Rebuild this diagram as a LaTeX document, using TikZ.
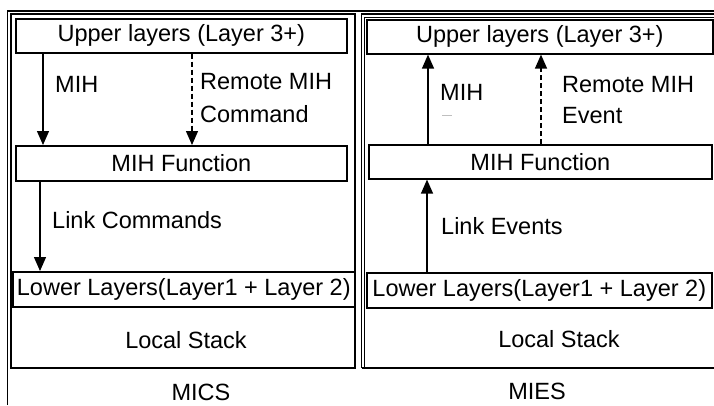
\documentclass[tikz,border=0pt]{standalone}
\usepackage{fontspec}
\setmainfont{Liberation Sans}
\usetikzlibrary{arrows.meta}
\tikzset{
  box/.style={draw, line width=1.6pt, inner sep=0pt, anchor=north west, align=center},
  frameline/.style={line width=1.4pt},
  arr/.style={line width=1.3pt, -{Triangle[width=12pt,length=14pt]}},
  darr/.style={arr, dash pattern=on 5pt off 3pt},
  lbl/.style={anchor=base west, inner sep=0pt},
  clbl/.style={anchor=base, inner sep=0pt}
}
\begin{document}
\begin{tikzpicture}[x=1pt,y=-1pt,font=\fontsize{23.5}{28}\selectfont]
\useasboundingbox (0,0) rectangle (714,405);
% frames
\draw[frameline] (7.5,405) -- (7.5,11) -- (714,11);
\draw[frameline] (11,14) rectangle (355,368);
\draw[frameline] (361.5,368) -- (361.5,14) -- (714,14);
\draw[line width=0.9pt] (364.5,368) -- (364.5,17) -- (714,17);
\draw[frameline] (361.5,368) -- (714,368);
% left stack
\node[box, minimum width=331pt, minimum height=34pt] (lu) at (15,18) {Upper layers (Layer 3+)};
\node[box, minimum width=331pt, minimum height=35pt] (lf) at (15,145) {MIH Function};
\node[box, minimum width=342pt, minimum height=35pt] (ll) at (12,271) {Lower Layers(Layer1 + Layer 2)};
% right stack
\node[box, minimum width=346pt, minimum height=34pt] (ru) at (366,19) {Upper layers (Layer 3+)};
\node[box, minimum width=343pt, minimum height=34pt] (rf) at (368,144) {MIH Function};
\node[box, minimum width=345pt, minimum height=35pt] (rl) at (366,272) {Lower Layers(Layer1 + Layer 2)};
% left arrows
\draw[arr] ([xshift=28pt]lu.south west) -- ([xshift=28pt]lu.south west |- lf.north);
\draw[darr] ([xshift=177pt]lu.south west) -- ([xshift=177pt]lu.south west |- lf.north);
\draw[arr] ([xshift=25pt]lf.south west) -- ([xshift=25pt]lf.south west |- ll.north);
% right arrows
\draw[arr] ([xshift=60pt]rf.north west) -- ([xshift=60pt]rf.north west |- ru.south);
\draw[darr] ([xshift=173pt]rf.north west) -- ([xshift=173pt]rf.north west |- ru.south);
\draw[arr] ([xshift=61pt]rl.north west) -- ([xshift=61pt]rl.north west |- rf.south);
% labels
\node[lbl] (t1) at (55,92) {MIH};
\node[lbl] (t2) at (200,89) {Remote MIH};
\node[lbl] (t3) at (200,122) {Command};
\node[lbl] (t4) at (52,228) {Link Commands};
\node[clbl] (t5) at (186,348) {Local Stack};
\node[clbl] (t6) at (201,400) {MICS};
\node[lbl] (t7) at (440,100) {MIH};
\draw[gray!50, line width=0.6pt] (442,115) -- (452,115);
\node[lbl] (t8) at (562,92) {Remote MIH};
\node[lbl] (t9) at (562,123) {Event};
\node[lbl] (t10) at (441,234) {Link Events};
\node[clbl] (t11) at (559,347) {Local Stack};
\node[clbl] (t12) at (537,399) {MIES};
\end{tikzpicture}
\end{document}
